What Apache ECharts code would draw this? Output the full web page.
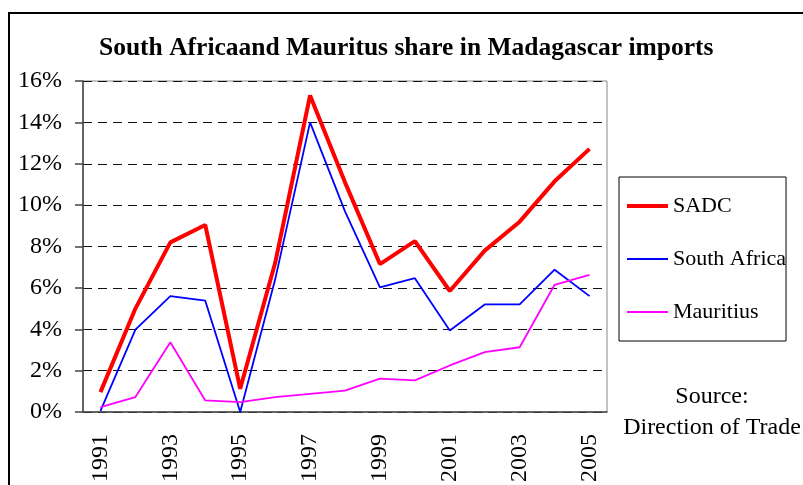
<!DOCTYPE html>
<html>
<head>
    <meta charset="utf-8" />
    <title>South Africa and Mauritus share in Madagascar imports</title>
    <script type="text/javascript" src="https://cdn.jsdelivr.net/npm/echarts@6/dist/echarts.min.js"></script>
    <style>
        html, body { margin: 0; padding: 0; background: #fff; }
        #main { width: 803px; height: 485px; }
    </style>
</head>
<body>
    <div id="main"></div>
    <script type="text/javascript">
        var years = ['1991', '1992', '1993', '1994', '1995', '1996', '1997', '1998',
            '1999', '2000', '2001', '2002', '2003', '2004', '2005'];
        var sadc = [0.96, 5.0, 8.2, 9.04, 1.12, 7.2, 15.3, 11.1, 7.15, 8.26, 5.85, 7.8, 9.2, 11.15, 12.72];
        var southAfrica = [0.05, 3.98, 5.6, 5.38, 0.0, 6.4, 14.0, 9.7, 6.02, 6.47, 3.94, 5.2, 5.2, 6.88, 5.6];
        var mauritius = [0.24, 0.72, 3.37, 0.56, 0.48, 0.72, 0.88, 1.03, 1.61, 1.53, 2.25, 2.89, 3.13, 6.15, 6.63];
        var yTicks = [0, 2, 4, 6, 8, 10, 12, 14, 16];

        var serif = 'Liberation Serif';
        var myChart = echarts.init(document.getElementById('main'));
        var option = {
            backgroundColor: '#fff',
            animation: false,
            title: {
                text: 'South Africaand Mauritus share in Madagascar imports',
                left: 94,
                top: 30,
                padding: 5,
                textStyle: {
                    fontFamily: serif,
                    fontWeight: 'bold',
                    fontSize: 25.5,
                    color: '#000'
                }
            },
            legend: {
                orient: 'vertical',
                left: 619,
                top: 177,
                padding: [18, 0, 18, 6],
                itemGap: 31,
                itemWidth: 41,
                itemHeight: 14,
                borderColor: '#000',
                borderWidth: 1,
                itemStyle: { opacity: 0 },
                textStyle: { fontFamily: serif, fontSize: 22, color: '#000', lineHeight: 22 },
                data: [
                    { name: 'SADC', lineStyle: { width: 4 } },
                    { name: 'South Africa', lineStyle: { width: 2 } },
                    { name: 'Mauritius', lineStyle: { width: 2 } }
                ]
            },
            grid: {
                left: 83,
                right: 196,
                top: 81,
                bottom: 72,
                show: true,
                borderColor: '#888',
                borderWidth: 1
            },
            xAxis: {
                type: 'category',
                data: years,
                boundaryGap: true,
                axisLine: { lineStyle: { color: '#444', width: 1.5 } },
                axisTick: { interval: 0, length: 8, lineStyle: { color: '#444', width: 1.5 } },
                axisLabel: {
                    interval: 1,
                    rotate: 90,
                    margin: 22,
                    fontFamily: serif,
                    fontSize: 24,
                    color: '#000'
                }
            },
            yAxis: {
                type: 'value',
                min: yTicks[0],
                max: yTicks[yTicks.length - 1],
                interval: 2,
                axisLine: { show: true, lineStyle: { color: '#444', width: 1.5 } },
                axisTick: { show: true, length: 8, lineStyle: { color: '#444', width: 1.5 } },
                axisLabel: {
                    margin: 21,
                    fontFamily: serif,
                    fontSize: 24,
                    color: '#000',
                    formatter: '{value}%'
                },
                splitLine: { show: true, lineStyle: { color: '#111', width: 1, type: [9, 6] } }
            },
            series: [{
                name: 'SADC',
                type: 'line',
                data: sadc,
                symbol: 'none',
                z: 5,
                itemStyle: { color: '#ff0000' },
                lineStyle: { color: '#ff0000', width: 4 }
            }, {
                name: 'South Africa',
                type: 'line',
                data: southAfrica,
                symbol: 'none',
                z: 3,
                itemStyle: { color: '#0000ff' },
                lineStyle: { color: '#0000ff', width: 1.8 }
            }, {
                name: 'Mauritius',
                type: 'line',
                data: mauritius,
                symbol: 'none',
                z: 4,
                itemStyle: { color: '#ff00ff' },
                lineStyle: { color: '#ff00ff', width: 1.8 }
            }],
            graphic: [{
                type: 'rect',
                shape: { x: 9, y: 13, width: 900, height: 600 },
                style: { fill: 'none', stroke: '#000', lineWidth: 2 },
                silent: true
            }, {
                type: 'text',
                x: 712,
                y: 397,
                style: {
                    text: 'Source:',
                    fontFamily: serif,
                    fontSize: 24,
                    fill: '#000',
                    align: 'center',
                    verticalAlign: 'middle'
                }
            }, {
                type: 'text',
                x: 712,
                y: 428,
                style: {
                    text: 'Direction of Trade',
                    fontFamily: serif,
                    fontSize: 24,
                    fill: '#000',
                    align: 'center',
                    verticalAlign: 'middle'
                }
            }]
        };
        option && myChart.setOption(option);
    </script>
</body>
</html>
